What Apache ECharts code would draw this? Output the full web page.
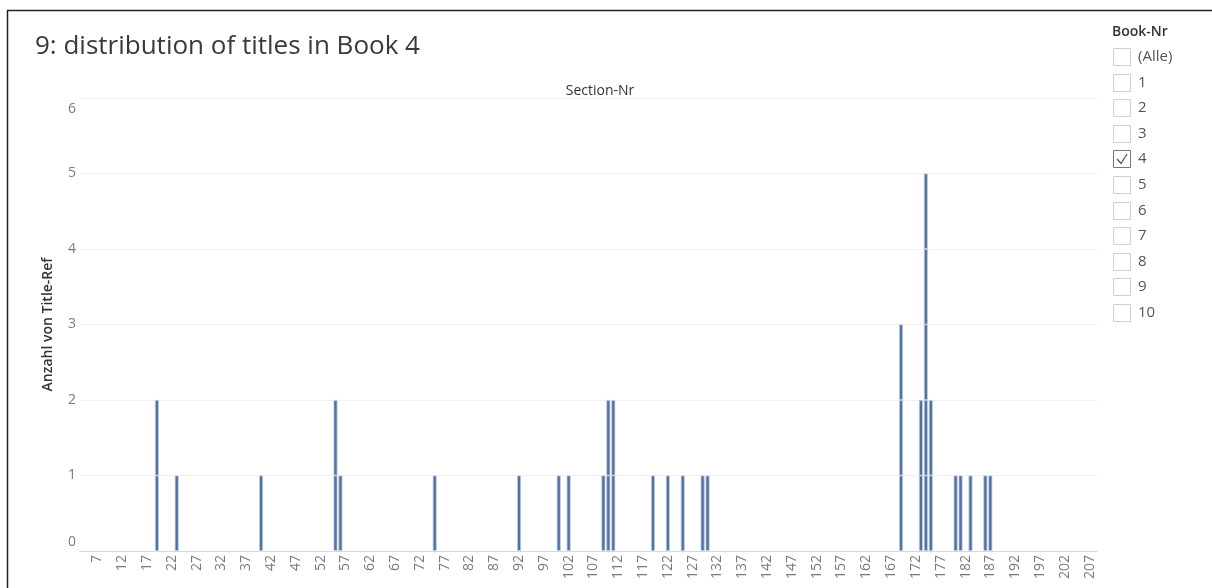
<!DOCTYPE html>
<html>
<head>
<meta charset="utf-8">
<script src="https://cdn.jsdelivr.net/npm/echarts@6/dist/echarts.min.js"></script>
<style>
html,body{margin:0;padding:0;background:#fff;}
#chart{width:1212px;height:588px;}
</style>
</head>
<body>
<div id="chart"></div>
<script>
// Section numbers shown on the axis (4..208)
const sectionStart = 4;
const sectionEnd = 208;
// Sections with titles and their counts (Anzahl von Title-Ref)
const sectionsWithTitles = [19, 23, 40, 55, 56, 75, 92, 100, 102, 109, 110, 111, 119, 122, 125, 129, 130, 169, 173, 174, 175, 180, 181, 183, 186, 187];
const titleCounts =        [ 2,  1,  1,  2,  1,  1,  1,   1,   1,   1,   2,   2,   1,   1,   1,   1,   1,   3,   2,   5,   2,   1,   1,   1,   1,   1];
const yTicks = [0, 1, 2, 3, 4, 5, 6];
const legendItems = ['(Alle)', '1', '2', '3', '4', '5', '6', '7', '8', '9', '10'];
const checkedItem = '4';

const categories = [];
for (let s = sectionStart; s <= sectionEnd; s++) categories.push(String(s));
const countBySection = {};
sectionsWithTitles.forEach((s, i) => { countBySection[s] = titleCounts[i]; });
const maxCount = Math.max(...titleCounts);

// each title-ref is one stacked unit segment (as in the Tableau mark)
const series = [];
for (let k = 1; k <= maxCount; k++) {
  series.push({
    type: 'bar',
    stack: 'titles',
    barWidth: 4,
    itemStyle: { color: '#4e72a8', borderColor: '#c9ccd2', borderWidth: 0.8 },
    data: categories.map(c => ((countBySection[+c] || 0) >= k ? 1 : '-'))
  });
}

const font = '"Open Sans", "Noto Sans", sans-serif';
const graphics = [
  { type: 'polyline', shape: { points: [[7.5, 588], [7.5, 10.5], [1212, 10.5]] }, style: { stroke: '#222', lineWidth: 1.5, fill: null } },
  { type: 'text', style: { x: 1112, y: 32, text: 'Book-Nr', font: '600 14px ' + font, fill: '#333', verticalAlign: 'middle' } }
];
legendItems.forEach((it, i) => {
  const y = Math.round(48 + i * 25.6);
  const checked = it === checkedItem;
  graphics.push({ type: 'rect', shape: { x: 1113.5, y: y + 0.5, width: 17, height: 17 }, style: { fill: '#fff', stroke: checked ? '#777' : '#d0d0d0', lineWidth: 1 } });
  if (checked) {
    graphics.push({ type: 'polyline', shape: { points: [[1117, y + 9], [1121, y + 13.5], [1127, y + 4]] }, style: { stroke: '#555', lineWidth: 1.3, fill: null } });
  }
  graphics.push({ type: 'text', style: { x: 1138, y: y + 9, text: it, font: '15px ' + font, fill: '#555', verticalAlign: 'middle' } });
});

const chart = echarts.init(document.getElementById('chart'), null, { renderer: 'canvas' });
chart.setOption({
  animation: false,
  backgroundColor: '#fff',
  title: [
    { text: '9: distribution of titles in Book 4', left: 30, top: 29, textStyle: { fontFamily: font, fontSize: 26, fontWeight: 'normal', color: '#3a3a3a' } },
    { text: 'Section-Nr', left: 595, top: 79, textAlign: 'center', textStyle: { fontFamily: font, fontSize: 14, fontWeight: 'normal', color: '#333' } }
  ],
  grid: { left: 80, right: 115, top: 98, bottom: 37, containLabel: false },
  xAxis: {
    type: 'category',
    data: categories,
    axisLine: { show: true, lineStyle: { color: '#d4d4d4', type: 'dotted', width: 1 } },
    axisTick: { show: false },
    splitLine: { show: false },
    axisLabel: {
      rotate: 90,
      margin: 4,
      color: '#7a7a7a',
      fontFamily: font,
      fontSize: 14,
      interval: (idx, val) => ((+val - 7) % 5 === 0)
    }
  },
  yAxis: {
    type: 'value',
    min: yTicks[0],
    max: yTicks[yTicks.length - 1],
    interval: 1,
    name: 'Anzahl von Title-Ref',
    nameLocation: 'middle',
    nameGap: 25,
    nameTextStyle: { fontFamily: font, fontSize: 14, fontWeight: 600, color: '#333' },
    axisLine: { show: false },
    axisTick: { show: false },
    splitLine: { lineStyle: { color: '#f0f0f0', width: 1 } },
    axisLabel: {
      margin: 4,
      color: '#7a7a7a',
      fontFamily: font,
      fontSize: 14,
      padding: [4, 0, 2, 0],
      verticalAlignMinLabel: 'bottom',
      verticalAlignMaxLabel: 'top'
    }
  },
  graphic: graphics,
  series: series
});
</script>
</body>
</html>
